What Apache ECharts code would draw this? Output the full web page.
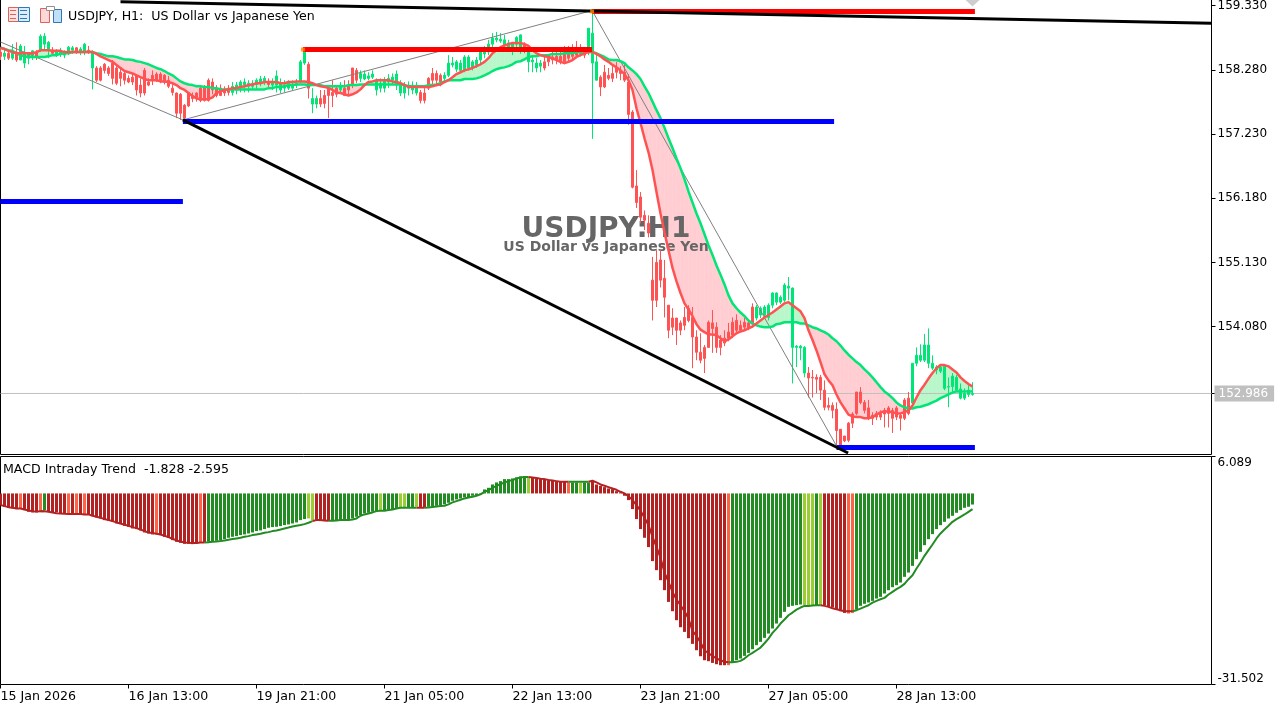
<!DOCTYPE html>
<html>
<head>
<meta charset="utf-8">
<title>USDJPY H1</title>
<script src="https://cdn.jsdelivr.net/npm/echarts@6/dist/echarts.min.js"></script>
<style>
  html, body { margin: 0; padding: 0; background: #fff; }
  #main { width: 1288px; height: 709px; }
</style>
</head>
<body>
<div id="main"></div>
<script>
// candles, oldest first, one row = 10 bars
var opens = [
  158.57,158.50,158.55,158.47,158.57,158.44,158.39,158.47,158.52,158.57,
  158.60,158.70,158.60,158.60,158.54,158.55,158.52,158.55,158.60,158.64,
  158.57,158.57,158.60,158.31,158.31,158.31,158.37,158.31,158.39,158.31,
  158.24,158.22,158.14,158.16,158.18,158.03,158.27,158.08,158.19,158.21,
  158.21,158.19,158.11,157.98,157.90,157.88,157.70,157.90,157.86,157.90,
  157.98,157.98,158.11,158.08,157.98,157.98,157.95,157.98,157.91,157.95,
  157.98,158.03,158.01,158.01,158.04,158.06,158.08,158.08,158.03,158.03,
  157.95,157.98,157.98,157.98,158.03,158.09,158.39,158.37,157.72,157.72,
  157.81,157.86,157.98,157.91,157.98,157.95,157.98,158.03,158.31,158.27,
  158.14,158.13,158.14,158.16,157.95,157.98,157.98,158.08,158.11,158.03,
  157.90,157.90,157.98,157.95,157.90,157.91,157.90,158.14,158.22,158.22,
  158.19,158.14,158.19,158.36,158.29,158.27,158.27,158.31,158.31,158.36,
  158.44,158.54,158.57,158.70,158.77,158.75,158.68,158.64,158.60,158.70,
  158.60,158.70,158.41,158.41,158.31,158.34,158.41,158.47,158.49,158.50,
  158.50,158.54,158.55,158.57,158.60,158.57,158.57,158.57,158.39,158.11,
  158.16,158.24,158.19,158.22,158.31,158.27,158.24,158.08,157.59,156.38,
  156.20,155.90,155.77,154.84,155.13,155.17,154.87,154.43,154.22,154.22,
  154.14,154.23,154.38,154.23,153.91,153.66,153.74,154.15,154.14,154.07,
  153.86,153.89,153.99,154.15,154.18,154.10,154.15,154.14,154.40,154.22,
  154.27,154.27,154.23,154.43,154.48,154.48,154.51,154.71,153.74,153.74,
  153.73,153.32,153.32,153.25,153.25,153.25,153.04,152.79,152.79,152.73,
  152.40,152.29,152.50,152.65,153.01,153.01,152.84,152.75,152.63,152.66,
  152.66,152.71,152.75,152.71,152.75,152.63,152.88,152.91,152.83,153.48,
  153.53,153.53,153.48,153.40,153.37,153.35,153.07,153.09,153.10,153.04,
  152.91,152.91,152.97,152.97
];
var closes = [
  158.50,158.55,158.47,158.57,158.44,158.67,158.57,158.55,158.59,158.49,
  158.83,158.83,158.73,158.55,158.59,158.60,158.55,158.65,158.64,158.57,
  158.62,158.70,158.57,158.57,158.11,158.11,158.27,158.22,158.14,158.06,
  158.14,158.11,158.08,158.08,157.95,157.90,157.90,158.03,158.11,158.11,
  158.11,158.08,158.01,157.91,157.57,157.57,157.49,157.69,157.81,157.81,
  157.78,157.78,157.78,157.95,157.86,157.86,157.90,157.91,158.01,158.03,
  158.08,158.08,158.06,158.06,158.11,158.13,158.14,158.04,158.08,158.18,
  158.06,158.03,158.06,158.04,158.06,158.41,158.57,157.98,157.81,157.81,
  157.72,157.73,157.86,157.86,157.88,158.03,157.86,157.95,158.03,158.11,
  158.22,158.21,158.18,158.21,158.11,158.06,158.11,158.14,158.16,158.21,
  158.06,158.03,158.03,158.03,158.03,157.78,157.78,157.98,158.11,158.11,
  158.08,158.19,158.39,158.39,158.41,158.39,158.49,158.49,158.41,158.44,
  158.57,158.57,158.70,158.80,158.80,158.78,158.77,158.72,158.72,158.81,
  158.85,158.64,158.57,158.44,158.39,158.39,158.31,158.41,158.44,158.44,
  158.41,158.41,158.47,158.50,158.52,158.55,158.52,158.96,158.88,158.41,
  158.00,158.00,158.14,158.14,158.24,158.22,158.11,157.55,156.36,156.11,
  155.87,155.82,155.61,154.51,154.51,154.84,154.56,154.02,154.07,154.02,
  154.02,154.10,154.18,153.91,153.66,153.53,153.56,153.74,154.05,153.74,
  153.74,153.81,153.89,153.94,154.02,154.02,154.07,154.05,154.14,154.40,
  154.38,154.40,154.43,154.63,154.63,154.56,154.76,154.74,154.71,153.76,
  153.76,153.74,153.24,153.24,153.22,153.04,152.76,152.76,152.71,152.38,
  152.14,152.21,152.22,152.50,152.66,152.84,152.71,152.58,152.58,152.60,
  152.60,152.65,152.66,152.58,152.60,152.58,152.58,152.66,153.48,153.61,
  153.61,153.78,153.78,153.48,153.42,153.42,153.43,153.10,153.27,153.25,
  153.06,152.99,153.04,152.986
];
var highs = [
  158.64,158.64,158.60,158.70,158.73,158.70,158.67,158.57,158.60,158.60,
  158.86,158.88,158.75,158.65,158.62,158.64,158.60,158.67,158.67,158.65,
  158.65,158.72,158.67,158.60,158.34,158.34,158.39,158.34,158.44,158.34,
  158.31,158.26,158.19,158.21,158.21,158.14,158.31,158.14,158.27,158.24,
  158.24,158.21,158.18,158.04,157.91,157.90,157.72,157.91,157.91,157.91,
  158.03,158.03,158.14,158.14,158.03,158.04,158.01,158.03,158.08,158.08,
  158.11,158.14,158.11,158.11,158.14,158.18,158.18,158.14,158.14,158.27,
  158.14,158.11,158.11,158.11,158.13,158.44,158.64,158.41,157.98,157.86,
  157.95,157.95,158.03,158.11,158.03,158.08,158.11,158.11,158.31,158.31,
  158.27,158.27,158.24,158.27,158.14,158.14,158.16,158.21,158.22,158.27,
  158.11,158.08,158.09,158.09,158.08,157.95,157.98,158.16,158.31,158.27,
  158.22,158.24,158.52,158.49,158.44,158.44,158.52,158.52,158.44,158.49,
  158.64,158.67,158.77,158.88,158.90,158.88,158.85,158.77,158.73,158.83,
  158.86,158.73,158.65,158.52,158.47,158.44,158.50,158.52,158.57,158.57,
  158.60,158.67,158.67,158.70,158.75,158.70,158.64,158.96,159.24,158.57,
  158.19,158.36,158.31,158.34,158.41,158.34,158.37,158.21,157.62,156.64,
  156.28,155.98,155.90,155.22,155.33,155.33,155.17,154.43,154.38,154.22,
  154.18,154.40,154.43,154.40,154.02,153.97,153.78,154.18,154.35,154.15,
  153.94,154.02,154.14,154.23,154.28,154.18,154.22,154.18,154.46,154.43,
  154.41,154.43,154.46,154.64,154.64,154.59,154.79,154.89,154.72,153.78,
  153.78,153.76,153.42,153.37,153.30,153.29,153.20,152.92,152.84,152.84,
  152.40,152.29,152.52,152.68,153.01,153.09,152.88,152.88,152.68,152.70,
  152.71,152.75,152.78,152.75,152.78,152.66,152.91,153.01,153.48,153.74,
  153.79,153.96,154.05,153.61,153.45,153.45,153.45,153.25,153.32,153.29,
  153.15,153.07,153.12,153.17
];
var lows = [
  158.44,158.44,158.44,158.44,158.41,158.44,158.31,158.37,158.44,158.44,
  158.57,158.60,158.47,158.52,158.49,158.49,158.47,158.52,158.54,158.54,
  158.52,158.52,158.54,157.96,158.08,158.09,158.22,158.18,158.04,158.03,
  158.01,158.04,158.06,158.03,157.86,157.83,157.86,158.01,158.03,158.08,
  158.06,158.04,157.98,157.86,157.49,157.46,157.46,157.67,157.75,157.76,
  157.75,157.76,157.76,157.88,157.83,157.85,157.85,157.86,157.86,157.88,
  157.91,157.91,157.91,157.95,157.95,158.01,158.03,158.00,157.95,157.91,
  157.90,157.91,157.95,157.95,157.98,158.06,158.36,157.81,157.57,157.65,
  157.67,157.65,157.49,157.67,157.83,157.90,157.85,157.86,157.98,158.06,
  158.08,158.11,158.11,158.13,157.86,157.91,157.91,157.98,158.03,157.95,
  157.85,157.81,157.86,157.88,157.86,157.73,157.73,157.95,158.03,158.01,
  158.01,158.08,158.16,158.32,158.24,158.24,158.24,158.27,158.27,158.31,
  158.36,158.47,158.52,158.60,158.73,158.72,158.65,158.57,158.52,158.60,
  158.54,158.55,158.24,158.24,158.24,158.24,158.27,158.34,158.37,158.37,
  158.37,158.37,158.41,158.44,158.47,158.50,158.47,158.52,157.15,158.11,
  157.85,157.98,158.11,158.08,158.14,158.11,158.08,157.38,156.34,156.02,
  155.77,155.66,155.54,154.18,154.40,154.72,154.23,153.89,153.94,153.78,
  153.94,154.02,154.15,153.40,153.53,153.48,153.32,153.73,153.65,153.65,
  153.61,153.76,153.84,153.89,153.99,153.99,154.02,154.02,154.10,154.18,
  154.22,154.22,154.18,154.38,154.43,154.45,154.48,154.51,153.15,153.42,
  153.53,153.25,152.92,152.92,152.99,152.88,152.71,152.71,152.58,152.14,
  152.12,152.19,152.19,152.42,152.63,152.81,152.66,152.55,152.47,152.55,
  152.55,152.43,152.43,152.34,152.55,152.38,152.55,152.63,152.79,153.43,
  153.50,153.50,153.40,153.37,153.30,153.32,153.04,152.76,152.99,153.01,
  152.89,152.88,152.93,152.95
];
// the two averages on the price pane
var fastMa = [
  158.64,158.62,158.59,158.57,158.55,158.55,158.55,158.55,158.55,158.57,
  158.60,158.60,158.60,158.59,158.59,158.59,158.57,158.57,158.57,158.57,
  158.57,158.57,158.57,158.57,158.54,158.50,158.47,158.44,158.41,158.36,
  158.31,158.26,158.24,158.22,158.19,158.16,158.13,158.11,158.11,158.11,
  158.09,158.09,158.08,158.06,158.03,157.98,157.95,157.90,157.85,157.81,
  157.80,157.80,157.80,157.83,157.90,157.93,157.95,157.96,157.98,157.98,
  158.00,158.01,158.03,158.04,158.06,158.06,158.08,158.08,158.08,158.08,
  158.06,158.06,158.08,158.08,158.09,158.09,158.09,158.08,158.06,158.03,
  158.01,158.00,157.98,157.95,157.91,157.90,157.88,157.86,157.88,157.91,
  157.96,158.03,158.08,158.09,158.11,158.11,158.11,158.11,158.09,158.08,
  158.06,158.03,158.00,158.00,158.00,158.00,158.00,158.00,158.01,158.03,
  158.04,158.08,158.11,158.16,158.21,158.24,158.27,158.29,158.31,158.34,
  158.37,158.41,158.47,158.55,158.60,158.65,158.68,158.70,158.72,158.72,
  158.72,158.70,158.67,158.60,158.55,158.52,158.50,158.49,158.47,158.44,
  158.41,158.39,158.41,158.44,158.49,158.52,158.55,158.57,158.57,158.54,
  158.50,158.45,158.41,158.36,158.32,158.27,158.21,158.11,157.95,157.65,
  157.41,157.16,156.93,156.64,156.28,155.93,155.62,155.33,155.04,154.82,
  154.63,154.46,154.36,154.25,154.12,154.03,153.99,153.95,153.95,153.94,
  153.89,153.84,153.87,153.92,153.97,154.00,154.02,154.05,154.08,154.13,
  154.18,154.23,154.27,154.31,154.36,154.41,154.46,154.48,154.43,154.38,
  154.33,154.22,154.02,153.86,153.69,153.50,153.30,153.20,153.12,152.97,
  152.84,152.74,152.64,152.61,152.60,152.60,152.58,152.58,152.60,152.64,
  152.68,152.69,152.69,152.68,152.66,152.66,152.68,152.71,152.79,152.92,
  153.04,153.13,153.23,153.32,153.40,153.45,153.45,153.43,153.38,153.33,
  153.25,153.19,153.14,153.10
];
var slowMa = [
  158.64,158.62,158.60,158.59,158.55,158.52,158.50,158.49,158.49,158.49,
  158.49,158.49,158.50,158.52,158.52,158.54,158.55,158.55,158.57,158.57,
  158.57,158.57,158.57,158.57,158.55,158.54,158.52,158.50,158.50,158.49,
  158.47,158.45,158.45,158.44,158.42,158.41,158.39,158.37,158.34,158.31,
  158.29,158.26,158.22,158.19,158.14,158.09,158.06,158.04,158.03,158.01,
  158.01,158.00,158.00,157.98,157.98,157.96,157.96,157.96,157.96,157.96,
  157.96,157.96,157.96,157.96,157.96,157.96,157.96,157.98,157.98,158.00,
  158.00,158.01,158.03,158.03,158.04,158.04,158.04,158.03,158.03,158.03,
  158.03,158.01,158.01,158.01,158.01,158.01,158.01,158.03,158.03,158.03,
  158.04,158.04,158.04,158.04,158.04,158.04,158.04,158.04,158.04,158.04,
  158.04,158.03,158.01,158.01,158.01,158.01,158.01,158.03,158.03,158.04,
  158.06,158.09,158.11,158.11,158.11,158.11,158.13,158.13,158.13,158.14,
  158.16,158.19,158.22,158.26,158.29,158.31,158.32,158.34,158.37,158.41,
  158.42,158.45,158.49,158.50,158.50,158.52,158.52,158.52,158.54,158.54,
  158.54,158.55,158.55,158.55,158.57,158.57,158.57,158.57,158.57,158.55,
  158.52,158.49,158.45,158.44,158.44,158.42,158.39,158.32,158.27,158.21,
  158.13,158.01,157.90,157.76,157.62,157.49,157.33,157.16,157.00,156.83,
  156.67,156.49,156.29,156.11,155.93,155.77,155.59,155.41,155.25,155.08,
  154.93,154.77,154.59,154.46,154.38,154.31,154.25,154.18,154.13,154.10,
  154.08,154.07,154.07,154.08,154.12,154.13,154.15,154.15,154.15,154.15,
  154.13,154.13,154.10,154.07,154.05,154.02,153.99,153.95,153.89,153.84,
  153.77,153.69,153.62,153.56,153.50,153.45,153.38,153.32,153.25,153.17,
  153.09,153.02,152.97,152.91,152.84,152.79,152.76,152.74,152.74,152.76,
  152.77,152.79,152.81,152.84,152.87,152.91,152.94,152.97,153.00,153.02,
  153.02,153.02,153.02,153.02
];
// MACD pane
var histValues = [
  -1.92,-2.20,-2.36,-2.47,-2.58,-2.47,-2.75,-3.02,-3.13,-3.13,
  -2.86,-2.75,-3.02,-3.13,-3.13,-3.30,-3.30,-3.41,-3.41,-3.41,
  -3.46,-3.46,-3.41,-3.74,-3.96,-4.12,-4.40,-4.51,-4.67,-4.95,
  -5.06,-5.33,-5.50,-5.77,-5.88,-6.10,-6.43,-6.60,-6.76,-6.76,
  -6.87,-7.15,-7.31,-7.70,-7.97,-8.14,-8.30,-8.30,-8.36,-8.25,
  -8.08,-8.08,-7.97,-7.86,-7.81,-7.70,-7.53,-7.31,-7.15,-7.04,
  -6.87,-6.76,-6.60,-6.43,-6.21,-6.10,-5.88,-5.66,-5.55,-5.50,
  -5.39,-5.22,-5.11,-4.95,-4.78,-4.40,-4.23,-4.12,-4.40,-4.51,
  -4.56,-4.56,-4.56,-4.40,-4.40,-4.40,-4.40,-4.40,-4.12,-3.85,
  -3.57,-3.30,-3.19,-3.02,-2.91,-2.75,-2.75,-2.75,-2.58,-2.47,
  -2.31,-2.31,-2.31,-2.31,-2.20,-2.31,-2.36,-2.20,-2.20,-2.04,
  -1.92,-1.81,-1.54,-1.21,-0.99,-0.82,-0.66,-0.66,-0.38,-0.27,
  -0.16,0.66,0.93,1.48,1.81,2.03,2.36,2.36,2.47,2.64,
  2.80,2.86,2.64,2.64,2.47,2.36,2.25,2.14,2.14,1.92,
  1.92,1.92,1.81,1.81,1.81,1.76,1.81,1.81,1.92,1.48,
  1.26,1.04,0.82,0.71,0.38,0.16,-0.38,-1.10,-2.58,-4.23,
  -5.88,-7.31,-8.85,-11.16,-12.65,-14.30,-15.95,-17.88,-19.42,-20.90,
  -22.06,-22.83,-23.87,-24.80,-25.85,-26.84,-27.50,-27.66,-27.94,-28.16,
  -28.32,-28.32,-28.32,-27.77,-27.50,-27.22,-26.78,-26.29,-25.68,-25.02,
  -24.47,-23.81,-23.10,-22.27,-21.45,-20.51,-19.52,-18.70,-18.53,-18.42,
  -18.31,-18.42,-18.42,-18.42,-18.42,-18.42,-18.42,-18.70,-18.81,-19.09,
  -19.42,-19.70,-19.81,-19.70,-19.15,-18.53,-18.20,-17.98,-17.71,-17.33,
  -17.05,-16.50,-15.95,-15.46,-15.13,-14.69,-13.75,-13.04,-11.94,-10.84,
  -9.63,-8.53,-7.54,-6.71,-5.88,-5.23,-4.68,-4.13,-3.69,-3.19,
  -2.75,-2.37,-2.20,-1.828
];
var signalValues = [
  -1.92,-2.09,-2.26,-2.36,-2.47,-2.47,-2.64,-2.81,-2.92,-2.97,
  -2.92,-2.92,-3.02,-3.13,-3.25,-3.30,-3.36,-3.41,-3.41,-3.41,
  -3.41,-3.46,-3.46,-3.69,-3.85,-4.02,-4.23,-4.40,-4.56,-4.78,
  -4.95,-5.17,-5.33,-5.55,-5.72,-5.94,-6.21,-6.43,-6.54,-6.65,
  -6.76,-6.98,-7.20,-7.48,-7.75,-7.92,-8.08,-8.14,-8.19,-8.19,
  -8.08,-8.08,-8.03,-7.97,-7.92,-7.86,-7.75,-7.64,-7.53,-7.42,
  -7.31,-7.15,-7.04,-6.87,-6.76,-6.65,-6.49,-6.38,-6.21,-6.10,
  -5.94,-5.77,-5.61,-5.44,-5.33,-5.22,-5.06,-4.84,-4.56,-4.40,
  -4.40,-4.45,-4.51,-4.51,-4.45,-4.40,-4.40,-4.40,-4.29,-4.12,
  -3.68,-3.46,-3.30,-3.13,-2.91,-2.86,-2.86,-2.75,-2.64,-2.47,
  -2.36,-2.36,-2.36,-2.36,-2.36,-2.36,-2.36,-2.31,-2.25,-2.14,
  -2.09,-2.04,-1.81,-1.48,-1.26,-1.04,-0.82,-0.66,-0.55,-0.38,
  -0.16,0.27,0.55,0.93,1.26,1.54,1.81,2.03,2.20,2.47,
  2.64,2.69,2.69,2.64,2.53,2.42,2.36,2.20,2.14,2.03,
  1.92,1.92,1.92,1.92,1.92,1.92,1.92,1.92,2.09,1.81,
  1.48,1.26,1.04,0.82,0.60,0.27,0,-0.44,-1.10,-1.92,
  -2.86,-4.01,-5.23,-7.15,-8.80,-10.62,-13.04,-14.58,-16.23,-17.49,
  -18.43,-19.42,-20.63,-22.66,-23.49,-24.59,-25.85,-26.35,-26.78,-27.22,
  -27.50,-27.77,-27.83,-27.83,-27.77,-27.61,-27.22,-26.68,-26.29,-25.85,
  -25.41,-24.70,-23.93,-22.99,-22.28,-21.45,-20.79,-20.08,-19.64,-19.15,
  -18.81,-18.54,-18.54,-18.48,-18.43,-18.43,-18.54,-18.70,-18.92,-19.09,
  -19.25,-19.42,-19.42,-19.42,-19.25,-18.98,-18.70,-18.43,-17.99,-17.71,
  -17.44,-17.22,-16.67,-16.23,-15.79,-15.40,-14.91,-14.14,-13.48,-12.38,
  -11.39,-10.29,-9.35,-8.42,-7.43,-6.60,-5.94,-5.34,-4.68,-4.24,
  -3.85,-3.47,-3.03,-2.595
];
// runs of bar colour: r firebrick, t tomato, g forest green, y yellow green
var histRuns = [
  ['r',5],['t',1],['r',4],['t',1],['g',1],['r',5],['t',1],['r',1],['t',1],['r',1],['t',1],
  ['r',17],['t',1],['r',10],['t',1],['r',1],['g',25],['y',2],['r',4],['g',12],['y',1],['g',4],
  ['y',2],['g',2],['y',1],['r',2],['g',25],['y',1],['r',9],['t',1],['g',2],['y',1],['g',2],
  ['r',34],['t',1],['g',18],['y',3],['g',1],['y',1],['r',6],['t',2],['g',30]
];
// axis ticks
var priceTicks = [159.33, 158.28, 157.23, 156.18, 155.13, 154.08];
var lastPrice = 152.986;
var macdTicks = [-31.502, 6.089];
var timeLabels = ['15 Jan 2026','16 Jan 13:00','19 Jan 21:00','21 Jan 05:00','22 Jan 13:00','23 Jan 21:00','27 Jan 05:00','28 Jan 13:00'];
var timeStep = 32;
// drawn objects, x in bars
var zigzagBars = [0, 45.6, 147.9, 208.9];
var zigzagPrices = [158.735, 157.46, 159.25, 152.14];
var trendDownBars = [45.6, 211.9];
var trendDownPrices = [157.46, 152.013];
var trendTopBars = [30, 302.75];
var trendTopPrices = [159.394, 159.041];
var blueFrom = [0, 45.6, 209];
var blueTo = [45.6, 208.4, 243.6];
var bluePrice = [156.126, 157.435, 152.103];
var redFrom = [75.6, 147.9];
var redTo = [147.9, 243.6];
var redPrice = [158.612, 159.234];

var BARS_ON_AXIS = 302.75;
var GREEN = '#00E676', RED = '#FF5252';
var FILL_GREEN = '#B9F6CA', FILL_RED = '#FFCDD2';
var histColors = { r: '#B22222', t: '#FF6347', g: '#228B22', y: '#9ACD32' };
var FONT = 'DejaVu Sans';

var histState = [];
histRuns.forEach(function (run) {
  for (var k = 0; k < run[1]; k++) histState.push(run[0]);
});
function isDown(i) { return histState[i] === 'r' || histState[i] === 't'; }

function pairs(xs, ys) {
  return xs.map(function (x, i) { return [x, ys[i]]; });
}
function indexed(arr) {
  return arr.map(function (v, i) { return [i, v]; });
}

var candleData = opens.map(function (o, i) {
  return [i, o, closes[i], lows[i], highs[i]];
});
var fillData = fastMa.slice(0, -1).map(function (v, i) {
  return [i, v, slowMa[i], fastMa[i + 1], slowMa[i + 1]];
});
var histData = histValues.map(function (v, i) {
  return { value: [i, v], itemStyle: { color: histColors[histState[i]] } };
});
// signal line takes the colour of the bars under it
var signalDown = signalValues.map(function (v, i) {
  return [i, isDown(i) || isDown(i + 1) ? v : null];
});
var signalUp = signalValues.map(function (v, i) {
  return [i, !isDown(i) || (i + 1 < signalValues.length && !isDown(i + 1)) ? v : null];
});

function thinLine(data, color, width, z) {
  return {
    type: 'line', xAxisIndex: 0, yAxisIndex: 0, data: data, z: z,
    symbol: 'none', silent: true,
    lineStyle: { color: color, width: width, cap: 'butt' }
  };
}

var series = [
  {
    type: 'custom', xAxisIndex: 0, yAxisIndex: 0, z: 1, silent: true,
    data: fillData, encode: { x: 0, y: [1, 2] },
    renderItem: function (params, api) {
      var i = api.value(0);
      var f0 = api.value(1), s0 = api.value(2), f1 = api.value(3), s1 = api.value(4);
      var color = (f0 + f1 >= s0 + s1) ? FILL_GREEN : FILL_RED;
      return {
        type: 'polygon',
        shape: { points: [api.coord([i, f0]), api.coord([i + 1, f1]), api.coord([i + 1, s1]), api.coord([i, s0])] },
        style: { fill: color, stroke: color, lineWidth: 0.5 }
      };
    }
  },
  {
    type: 'candlestick', xAxisIndex: 0, yAxisIndex: 0, z: 2, silent: true,
    data: candleData, barWidth: 2, encode: { x: 0, y: [1, 2, 3, 4] },
    itemStyle: { color: GREEN, color0: RED, borderColor: GREEN, borderColor0: RED, borderWidth: 1 }
  },
  thinLine(pairs(zigzagBars, zigzagPrices), '#808080', 1, 3),
  thinLine(indexed(slowMa), GREEN, 2.5, 4),
  thinLine(indexed(fastMa), RED, 2.5, 5),
  thinLine(pairs(trendDownBars, trendDownPrices), '#000', 3, 8),
  thinLine(pairs(trendTopBars, trendTopPrices), '#000', 3, 8)
];
blueFrom.forEach(function (a, k) {
  series.push(thinLine([[a, bluePrice[k]], [blueTo[k], bluePrice[k]]], '#0000FF', 5, 6));
});
redFrom.forEach(function (a, k) {
  series.push(thinLine([[a, redPrice[k]], [redTo[k], redPrice[k]]], '#FF0000', 5, 6));
});
// level start markers
series.push({
  type: 'scatter', xAxisIndex: 0, yAxisIndex: 0, z: 9, silent: true, symbol: 'rect', symbolSize: 4,
  data: redFrom.map(function (a, k) { return [a, redPrice[k]]; }),
  itemStyle: { color: '#FF8C00' }
});
// last price line and its label
var lastLine = thinLine([[0, lastPrice], [BARS_ON_AXIS, lastPrice]], '#C0C0C0', 1, 1);
lastLine.endLabel = {
  show: true, formatter: lastPrice.toFixed(3), color: '#fff', backgroundColor: '#C0C0C0',
  fontFamily: FONT, fontSize: 12, padding: [2, 6, 2, 4], distance: 3
};
series.push(lastLine);
// grey marker on the top edge
series.push({
  type: 'scatter', xAxisIndex: 0, yAxisIndex: 0, z: 9, silent: true, clip: false,
  symbol: 'triangle', symbolRotate: 180, symbolSize: [30, 14],
  data: [[243, 159.43]], itemStyle: { color: '#C0C0C0' }
});
// macd pane
series.push({
  type: 'bar', xAxisIndex: 1, yAxisIndex: 1, barWidth: 3, data: histData, silent: true, z: 2
});
series.push({
  type: 'line', xAxisIndex: 1, yAxisIndex: 1, data: signalUp, symbol: 'none', silent: true, z: 3,
  lineStyle: { color: histColors.g, width: 2 }
});
series.push({
  type: 'line', xAxisIndex: 1, yAxisIndex: 1, data: signalDown, symbol: 'none', silent: true, z: 4,
  lineStyle: { color: histColors.r, width: 2 }
});

function box(x, y, w, h, fill, stroke) {
  return { type: 'rect', shape: { x: x + 0.5, y: y + 0.5, width: w, height: h }, style: { fill: fill, stroke: stroke, lineWidth: 1 }, z: 20 };
}
function dash(x, y, w, color) {
  return { type: 'rect', shape: { x: x, y: y, width: w, height: 1 }, style: { fill: color }, z: 21 };
}

var option = {
  animation: false,
  backgroundColor: '#fff',
  title: [
    { text: 'USDJPY:H1', left: 606, top: 216, padding: 0, textAlign: 'center', z: 1.5,
      textStyle: { color: '#666666', fontFamily: FONT, fontWeight: 'bold', fontSize: 28 } },
    { text: 'US Dollar vs Japanese Yen', left: 606, top: 240, padding: 0, textAlign: 'center', z: 1.5,
      textStyle: { color: '#666666', fontFamily: FONT, fontWeight: 'bold', fontSize: 14 } },
    { text: 'USDJPY, H1:  US Dollar vs Japanese Yen', left: 68, top: 10, padding: 0, z: 9,
      textStyle: { color: '#000', fontFamily: FONT, fontWeight: 'normal', fontSize: 12.6 } },
    { text: 'MACD Intraday Trend  -1.828 -2.595', left: 3, top: 463, padding: 0, z: 9,
      textStyle: { color: '#000', fontFamily: FONT, fontWeight: 'normal', fontSize: 12.6 } }
  ],
  grid: [
    { left: 0.5, top: -0.5, width: 1211, height: 455, show: true, borderColor: '#000', borderWidth: 1, backgroundColor: 'transparent', outerBoundsMode: 'none' },
    { left: 0.5, top: 456.5, width: 1211, height: 228, show: true, borderColor: '#000', borderWidth: 1, backgroundColor: 'transparent', outerBoundsMode: 'none' }
  ],
  xAxis: [
    { type: 'value', gridIndex: 0, min: 0, max: BARS_ON_AXIS, show: false, axisLine: { onZero: false } },
    {
      type: 'value', gridIndex: 1, min: 0, max: BARS_ON_AXIS,
      splitLine: { show: false }, axisLine: { show: false, onZero: false },
      axisTick: { length: 4, lineStyle: { color: '#000' }, customValues: timeLabels.map(function (t, i) { return i * timeStep; }) },
      axisLabel: {
        color: '#000', fontFamily: FONT, fontSize: 12.6, margin: 6, align: 'left',
        customValues: timeLabels.map(function (t, i) { return i * timeStep; }),
        formatter: function (v) { return timeLabels[v / timeStep]; }
      }
    }
  ],
  yAxis: [
    {
      type: 'value', gridIndex: 0, position: 'right', min: 151.988, max: 159.43,
      splitLine: { show: false }, axisLine: { show: false, onZero: false },
      axisTick: { length: 4, lineStyle: { color: '#000' }, customValues: priceTicks.concat([lastPrice]) },
      axisLabel: {
        color: '#000', fontFamily: FONT, fontSize: 12, margin: 6, padding: [2, 0, 0, 0], customValues: priceTicks,
        formatter: function (v) { return v.toFixed(3); }
      }
    },
    {
      type: 'value', gridIndex: 1, position: 'right', min: -31.502, max: 6.089,
      splitLine: { show: false }, axisLine: { show: false, onZero: false },
      axisTick: { length: 4, lineStyle: { color: '#000' }, customValues: macdTicks },
      axisLabel: {
        color: '#000', fontFamily: FONT, fontSize: 12, margin: 6, customValues: macdTicks,
        verticalAlignMinLabel: 'bottom', verticalAlignMaxLabel: 'top',
        formatter: function (v) { return v.toFixed(3); }
      }
    }
  ],
  graphic: [
    // toolbar icons in the corner
    box(8, 7, 10, 14, '#FBE3E3', '#E0605A'),
    box(18, 7, 11, 14, '#DCEBF8', '#2F78B8'),
    dash(10, 10, 6, '#E0605A'), dash(10, 14, 6, '#E0605A'), dash(10, 18, 6, '#E0605A'),
    dash(20, 10, 7, '#2F78B8'), dash(20, 14, 7, '#2F78B8'), dash(20, 18, 7, '#2F78B8'),
    box(40, 8, 9, 14, '#FBD9D9', '#E0605A'),
    box(53, 9, 8, 13, '#BFE0F8', '#2F78B8'),
    box(46, 6, 8, 4, '#fff', '#909090')
  ],
  series: series
};

var chart = echarts.init(document.getElementById('main'));
chart.setOption(option);
</script>
</body>
</html>
